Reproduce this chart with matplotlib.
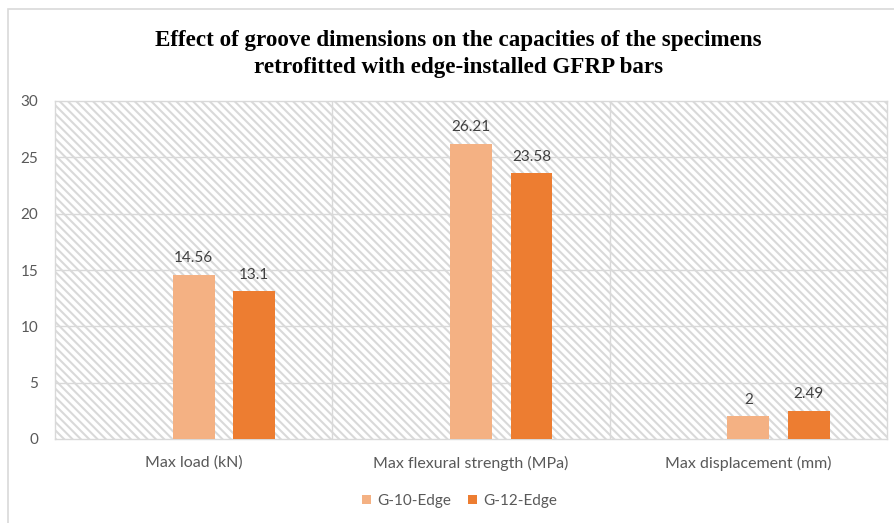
import numpy as np
import matplotlib.pyplot as plt
from matplotlib.patches import Rectangle

plt.rcParams['hatch.color'] = '#e4e4e4'
plt.rcParams['hatch.linewidth'] = 1.5

# Measured capacities for each groove size
categories = ['Max load (kN)', 'Max flexural strength (MPa)', 'Max displacement (mm)']
g10_edge = [14.56, 26.21, 2]
g12_edge = [13.1, 23.58, 2.49]
series_names = ['G-10-Edge', 'G-12-Edge']
y_ticks = [0, 5, 10, 15, 20, 25, 30]

C_G10 = '#f4b183'
C_G12 = '#ed7d31'
GRID = '#d9d9d9'
TEXT = '#595959'

fig = plt.figure(figsize=(8.94, 5.23), dpi=100)
ax = fig.add_axes([55 / 894, 84 / 523, 832 / 894, 338 / 523])

# outer chart frame
fig.patches.append(Rectangle((8 / 894, -0.1), 1.2, (523 - 9) / 523 + 0.1,
                             transform=fig.transFigure, fill=False,
                             edgecolor=GRID, linewidth=1.2))

# hatched plot background
ax.add_patch(Rectangle((0, 0), 1, 1, transform=ax.transAxes, facecolor='white',
                       hatch='\\' * 4, edgecolor=GRID, linewidth=0, zorder=0))

x = np.arange(len(categories))
w = 0.151
off = 0.218
b1 = ax.bar(x, g10_edge, w, color=C_G10, label=series_names[0], zorder=3)
b2 = ax.bar(x + off, g12_edge, w, color=C_G12, label=series_names[1], zorder=3)

for bars, vals in ((b1, g10_edge), (b2, g12_edge)):
    for r, v in zip(bars, vals):
        ax.text(r.get_x() + r.get_width() / 2, v + 0.85, f'{v:g}',
                ha='center', va='bottom', fontsize=11, color='#404040',
                family='Lato', zorder=4)

ax.set_xlim(-0.5, 2.5)
ax.set_ylim(0, 30)
ax.set_yticks(y_ticks)
ax.set_xticks(x)
ax.set_xticklabels(categories)
ax.tick_params(length=0, labelcolor=TEXT)
ax.tick_params(axis='x', labelsize=11.5, pad=12)
ax.tick_params(axis='y', labelsize=11, pad=12)
for lab in ax.get_xticklabels() + ax.get_yticklabels():
    lab.set_family('Lato')

# grid lines and category separators
for yv in y_ticks[1:-1]:
    ax.axhline(yv, color=GRID, linewidth=1, zorder=1)
for xv in (0.5, 1.5):
    ax.axvline(xv, color=GRID, linewidth=1, zorder=1)
for s in ax.spines.values():
    s.set_color(GRID)
    s.set_linewidth(1)

fig.text(458.5 / 894, 1 - 54 / 523, 'Effect of groove dimensions on the capacities of the specimens\n'
         'retrofitted with edge-installed GFRP bars', ha='center', va='center',
         fontsize=16.6, fontweight='bold', family='Liberation Serif', linespacing=1.4)

leg = fig.legend(handles=[b1, b2], loc='center', bbox_to_anchor=(459.5 / 894, 1 - 501 / 523),
                 ncol=2, frameon=False, handlelength=0.6, handleheight=0.6,
                 columnspacing=1.1, handletextpad=0.4,
                 prop={'family': 'Lato', 'size': 11})
for t in leg.get_texts():
    t.set_color(TEXT)

fig.savefig('out.png', dpi=100)
